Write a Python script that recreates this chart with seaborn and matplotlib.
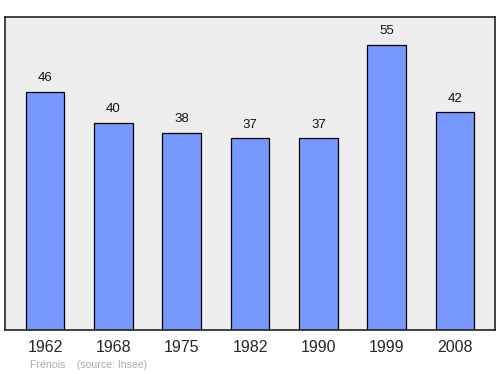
import matplotlib
matplotlib.use("Agg")
import matplotlib.pyplot as plt
import seaborn as sns
import pandas as pd

years = ["1962", "1968", "1975", "1982", "1990", "1999", "2008"]
population = [46, 40, 38, 37, 37, 55, 42]

sns.set_style("white")
plt.rcParams['font.family'] = ['Liberation Sans', 'DejaVu Sans']

df = pd.DataFrame({"year": years, "pop": population})

fig = plt.figure(figsize=(5, 3.74), dpi=100)
ax = fig.add_axes([0.01, 1 - 330 / 374, 0.98, (330 - 17) / 374])
ax.set_facecolor("#eeeeee")
sns.barplot(data=df, x="year", y="pop", color="#7799ff", saturation=1,
            width=0.57, edgecolor="black", linewidth=0.9, ax=ax)
for i, v in enumerate(population):
    ax.annotate(str(v), (i, v), xytext=(0, 5.5), textcoords="offset points",
                ha="center", va="bottom", fontsize=9.5, color="#111111")
ax.set_xlim(-0.585, 6.585)
ax.set_ylim(0, 60.4)
ax.set_yticks([])
ax.set_xlabel("")
ax.set_ylabel("")
ax.tick_params(axis="x", length=0, pad=7, labelsize=11.5)
for s in ax.spines.values():
    s.set_visible(True)
    s.set_color("#222222")
    s.set_linewidth(1.2)
fig.text(30 / 500, 1 - 364.5 / 374, "Frénois    (source: Insee)", fontsize=7.6,
         color="#aaaaaa", va="center", ha="left")
fig.savefig("out.png", dpi=100)
